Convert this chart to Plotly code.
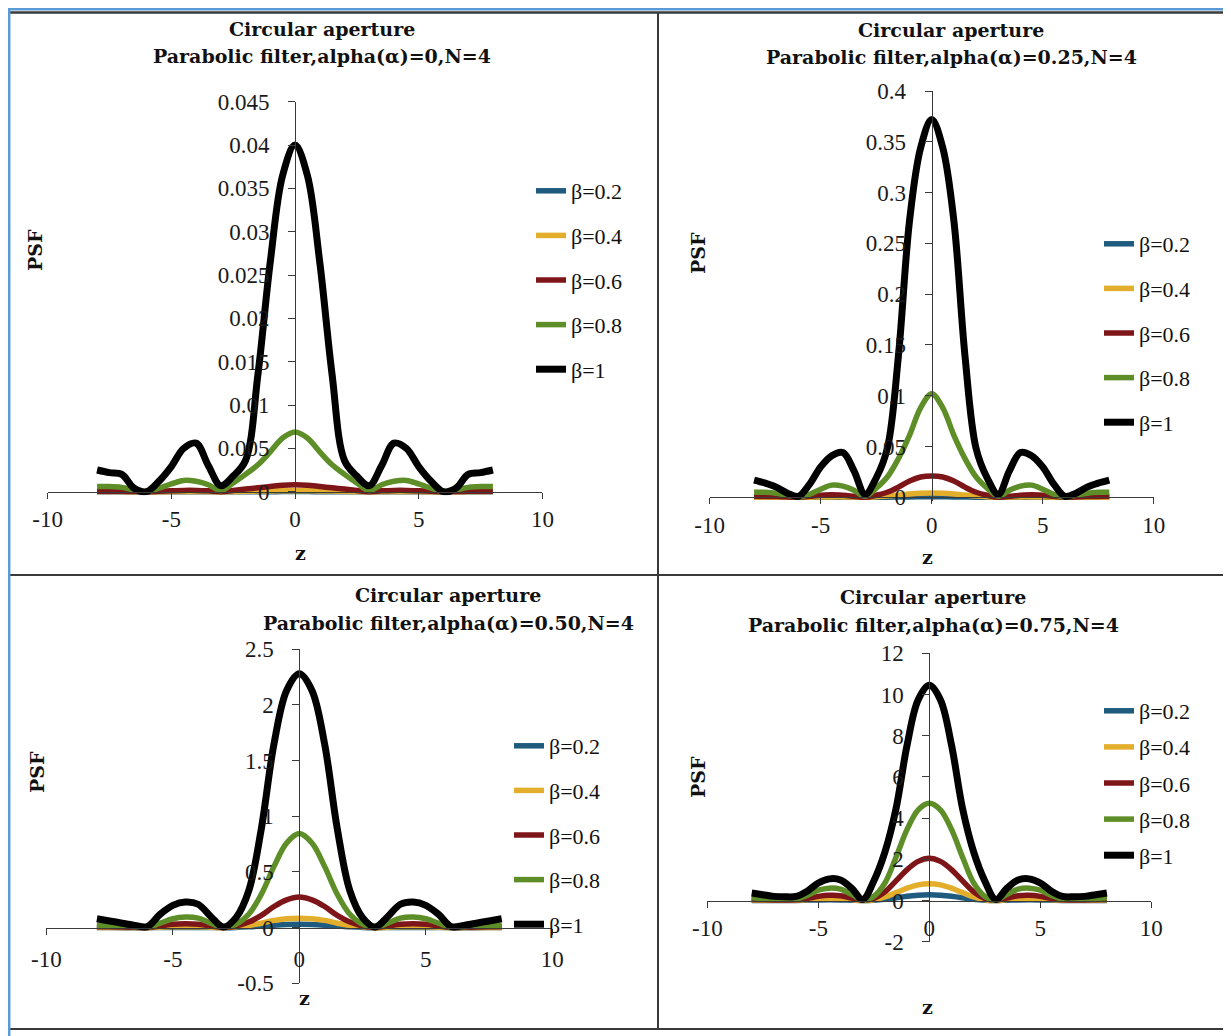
import plotly.graph_objects as go

W, H = 1231, 1036
OFF = 8  # page body margin: the figure starts 8px into the window

# ---------------- data ----------------
z = [-8.0, -7.5, -7.0, -6.5, -6.0, -5.5, -5.0, -4.5, -4.0, -3.5, -3.0, -2.5, -2.0, -1.5, -1.0, -0.5,
     0.0, 0.5, 1.0, 1.5, 2.0, 2.5, 3.0, 3.5, 4.0, 4.5, 5.0, 5.5, 6.0, 6.5, 7.0, 7.5, 8.0]

beta_labels = ["β=0.2", "β=0.4", "β=0.6", "β=0.8", "β=1"]

x_tickvals = [-10, -5, 0, 5, 10]
x_ticktext = ["-10", "-5", "0", "5", "10"]

# alpha = 0
a0_b02 = [0, 0, 0, 0, 0, 0, 0, 0, 0, 0, 0, 0.000001, 0.000003, 0.000005, 0.000007, 0.000009, 0.00001,
          0.000009, 0.000007, 0.000005, 0.000003, 0.000001, 0, 0, 0, 0, 0, 0, 0, 0, 0, 0, 0]
a0_b04 = [0.00001, 0.00001, 0.00001, 0.0, 0.0, 0.0, 0.00001, 0.00002, 0.00002, 0.00001, 0.0, 0.00002, 0.00004,
          0.00007, 0.00009, 0.00011, 0.00012, 0.00011, 0.00009, 0.00007, 0.00004, 0.00002, 0.0, 0.00001,
          0.00002, 0.00002, 0.00001, 0.0, 0.0, 0.0, 0.00001, 0.00001, 0.00001]
a0_b06 = [0.00006, 0.00006, 0.00005, 0.00002, 0.0, 0.00005, 0.0001, 0.00015, 0.00015, 0.0001, 0.0, 0.00015,
          0.0003, 0.00045, 0.0006, 0.00075, 0.0008, 0.00075, 0.0006, 0.00045, 0.0003, 0.00015, 0.0, 0.0001,
          0.00015, 0.00015, 0.0001, 0.00005, 0.0, 0.00002, 0.00005, 0.00006, 0.00006]
a0_b08 = [0.0006, 0.0006, 0.0005, 0.0002, 0.0000, 0.0004, 0.0009, 0.0013, 0.0012, 0.0008, 0.0001, 0.0010,
          0.0020, 0.0031, 0.0046, 0.0062, 0.0069, 0.0062, 0.0046, 0.0031, 0.0020, 0.0010, 0.0001, 0.0008,
          0.0012, 0.0013, 0.0009, 0.0004, 0.0000, 0.0002, 0.0005, 0.0006, 0.0006]
a0_b1 = [0.0025, 0.0022, 0.0020, 0.0004, 0.0000, 0.0012, 0.0029, 0.0050, 0.0056, 0.0030, 0.0007, 0.0018,
         0.0036, 0.0135, 0.0265, 0.0365, 0.0400, 0.0365, 0.0265, 0.0135, 0.0036, 0.0018, 0.0007, 0.0030,
         0.0056, 0.0050, 0.0029, 0.0012, 0.0000, 0.0004, 0.0020, 0.0022, 0.0025]

# alpha = 0.25
a025_b02 = [0.00001, 0.00001, 0.00001, 0, 0, 0.00001, 0.00003, 0.00004, 0.00004, 0.00002, 0, 0.00006, 0.00014,
            0.00026, 0.0004, 0.00047, 0.0005, 0.00047, 0.0004, 0.00026, 0.00014, 0.00006, 0, 0.00002, 0.00004,
            0.00004, 0.00003, 0.00001, 0, 0, 0.00001, 0.00001, 0.00001]
a025_b04 = [0.0001, 0.0001, 0.0001, 0.0, 0.0, 0.0001, 0.0003, 0.0004, 0.0004, 0.0002, 0.0, 0.0005, 0.0012,
            0.0022, 0.0033, 0.0040, 0.0042, 0.0040, 0.0033, 0.0022, 0.0012, 0.0005, 0.0, 0.0002, 0.0004,
            0.0004, 0.0003, 0.0001, 0.0, 0.0, 0.0001, 0.0001, 0.0001]
a025_b06 = [0.001, 0.0009, 0.0007, 0.0003, 0.000, 0.001, 0.002, 0.0025, 0.002, 0.001, 0.000, 0.002, 0.005,
            0.010, 0.016, 0.020, 0.021, 0.020, 0.016, 0.010, 0.005, 0.002, 0.000, 0.001, 0.002, 0.0025,
            0.002, 0.001, 0.000, 0.0003, 0.0007, 0.0009, 0.001]
a025_b08 = [0.005, 0.005, 0.004, 0.002, 0.000, 0.003, 0.008, 0.012, 0.011, 0.007, 0.001, 0.009, 0.020,
            0.038, 0.061, 0.088, 0.102, 0.088, 0.061, 0.038, 0.020, 0.009, 0.001, 0.007, 0.011, 0.012,
            0.008, 0.003, 0.000, 0.002, 0.004, 0.005, 0.005]
a025_b1 = [0.017, 0.014, 0.010, 0.004, 0.001, 0.013, 0.030, 0.041, 0.044, 0.026, 0.003, 0.019, 0.048,
           0.139, 0.272, 0.344, 0.372, 0.344, 0.272, 0.139, 0.048, 0.019, 0.003, 0.026, 0.044, 0.041,
           0.030, 0.013, 0.001, 0.004, 0.010, 0.014, 0.017]

# alpha = 0.50
a05_b02 = [0.001, 0.001, 0.0, 0.0, 0.0, 0.001, 0.002, 0.002, 0.002, 0.001, 0.0, 0.002, 0.007, 0.014, 0.022,
           0.028, 0.03, 0.028, 0.022, 0.014, 0.007, 0.002, 0.0, 0.001, 0.002, 0.002, 0.002, 0.001, 0.0, 0.0,
           0.0, 0.001, 0.001]
a05_b04 = [0.002, 0.002, 0.001, 0.001, 0.0, 0.004, 0.008, 0.009, 0.008, 0.004, 0.0, 0.007, 0.02, 0.04, 0.065,
           0.08, 0.085, 0.08, 0.065, 0.04, 0.02, 0.007, 0.0, 0.004, 0.008, 0.009, 0.008, 0.004, 0.0, 0.001,
           0.001, 0.002, 0.002]
a05_b06 = [0.008, 0.007, 0.005, 0.003, 0.001, 0.015, 0.03, 0.035, 0.03, 0.015, 0.001, 0.015, 0.05, 0.11, 0.19,
           0.25, 0.275, 0.25, 0.19, 0.11, 0.05, 0.015, 0.001, 0.015, 0.03, 0.035, 0.03, 0.015, 0.001, 0.003,
           0.005, 0.007, 0.008]
a05_b08 = [0.022, 0.02, 0.015, 0.008, 0.003, 0.04, 0.08, 0.095, 0.085, 0.04, 0.003, 0.03, 0.12, 0.30, 0.55,
           0.76, 0.845, 0.76, 0.55, 0.30, 0.12, 0.03, 0.003, 0.04, 0.085, 0.095, 0.08, 0.04, 0.003, 0.008,
           0.015, 0.02, 0.022]
a05_b1 = [0.08, 0.06, 0.04, 0.02, 0.01, 0.12, 0.20, 0.23, 0.21, 0.10, 0.005, 0.09, 0.33, 0.89, 1.65, 2.13,
          2.28, 2.13, 1.65, 0.89, 0.33, 0.09, 0.005, 0.10, 0.21, 0.23, 0.20, 0.12, 0.01, 0.02, 0.04, 0.06, 0.08]

# alpha = 0.75
a075_b02 = [0.006, 0.005, 0.004, 0.003, 0.003, 0.015, 0.03, 0.035, 0.03, 0.015, 0.0, 0.015, 0.06, 0.13, 0.21,
            0.26, 0.28, 0.26, 0.21, 0.13, 0.06, 0.015, 0.0, 0.015, 0.03, 0.035, 0.03, 0.015, 0.003, 0.003,
            0.004, 0.005, 0.006]
a075_b04 = [0.02, 0.015, 0.01, 0.01, 0.01, 0.04, 0.08, 0.1, 0.09, 0.05, 0.0, 0.04, 0.17, 0.38, 0.6, 0.76, 0.81,
            0.76, 0.6, 0.38, 0.17, 0.04, 0.0, 0.05, 0.09, 0.1, 0.08, 0.04, 0.01, 0.01, 0.01, 0.015, 0.02]
a075_b06 = [0.05, 0.04, 0.03, 0.025, 0.03, 0.1, 0.2, 0.25, 0.23, 0.12, 0.01, 0.1, 0.42, 0.95, 1.5, 1.9, 2.05,
            1.9, 1.5, 0.95, 0.42, 0.1, 0.01, 0.12, 0.23, 0.25, 0.2, 0.1, 0.03, 0.025, 0.03, 0.04, 0.05]
a075_b08 = [0.13, 0.1, 0.07, 0.06, 0.08, 0.25, 0.5, 0.6, 0.55, 0.3, 0.02, 0.2, 0.85, 2.1, 3.45, 4.4, 4.72,
            4.4, 3.45, 2.1, 0.85, 0.2, 0.02, 0.3, 0.55, 0.6, 0.5, 0.25, 0.08, 0.06, 0.07, 0.1, 0.13]
a075_b1 = [0.36, 0.28, 0.2, 0.18, 0.2, 0.45, 0.85, 1.05, 1.0, 0.6, 0.05, 0.95, 2.35, 4.45, 7.55, 9.75, 10.45,
           9.75, 7.55, 4.45, 2.35, 0.95, 0.05, 0.6, 1.0, 1.05, 0.85, 0.45, 0.2, 0.18, 0.2, 0.28, 0.36]

p1_yticks = [0, 0.005, 0.01, 0.015, 0.02, 0.025, 0.03, 0.035, 0.04, 0.045]
p1_yticktext = ["0", "0.005", "0.01", "0.015", "0.02", "0.025", "0.03", "0.035", "0.04", "0.045"]
p2_yticks = [0, 0.05, 0.1, 0.15, 0.2, 0.25, 0.3, 0.35, 0.4]
p2_yticktext = ["0", "0.05", "0.1", "0.15", "0.2", "0.25", "0.3", "0.35", "0.4"]
p3_yticks = [-0.5, 0, 0.5, 1, 1.5, 2, 2.5]
p3_yticktext = ["-0.5", "0", "0.5", "1", "1.5", "2", "2.5"]
p4_yticks = [-2, 0, 2, 4, 6, 8, 10, 12]
p4_yticktext = ["-2", "0", "2", "4", "6", "8", "10", "12"]

title_line1 = "Circular aperture"
title_line2 = ["Parabolic filter,alpha(α)=0,N=4", "Parabolic filter,alpha(α)=0.25,N=4",
               "Parabolic filter,alpha(α)=0.50,N=4", "Parabolic filter,alpha(α)=0.75,N=4"]

# ---------------- style / layout ----------------
colors = ["#1F5B7E", "#E3AE2B", "#7E1518", "#5E8E27", "#000000"]
widths = [5.5, 5.5, 5.5, 5.5, 7]
SERIF = "Liberation Serif"
BOLD = "DejaVu Serif"


def fx(px):
    return (px - OFF) / W


def fy(py):
    return 1 - (py - OFF) / H


panels = [
    dict(series=[a0_b02, a0_b04, a0_b06, a0_b08, a0_b1], yt=p1_yticks, ytt=p1_yticktext,
         xm=47.6, xp=542.4, ylo=0.0, ylo_px=491.7, yhi=0.045, yhi_px=101.7, pad=3.5, xstand=1,
         tcx=322, t1=29, t2=56, psf=(35, 250), zl=(300, 553), lx=573, ly=192, gap=13),
    dict(series=[a025_b02, a025_b04, a025_b06, a025_b08, a025_b1], yt=p2_yticks, ytt=p2_yticktext,
         xm=709.7, xp=1153.7, ylo=0.0, ylo_px=497.3, yhi=0.4, yhi_px=91.0, pad=3.5, xstand=1,
         tcx=951, t1=30, t2=57, psf=(698, 253), zl=(927, 557), lx=1141, ly=245, gap=13),
    dict(series=[a05_b02, a05_b04, a05_b06, a05_b08, a05_b1], yt=p3_yticks, ytt=p3_yticktext,
         xm=46.3, xp=552.3, ylo=-0.5, ylo_px=983.3, yhi=2.5, yhi_px=649.3, pad=0, xstand=5,
         tcx=448, t1=595, t2=623, psf=(37, 772), zl=(304, 998), lx=551, ly=747, gap=13),
    dict(series=[a075_b02, a075_b04, a075_b06, a075_b08, a075_b1], yt=p4_yticks, ytt=p4_yticktext,
         xm=707.3, xp=1151.3, ylo=-2.0, ylo_px=941.7, yhi=12.0, yhi_px=653.3, pad=0, xstand=1,
         tcx=933, t1=597, t2=625, psf=(698, 777), zl=(927, 1007), lx=1141, ly=712, gap=4.5),
]

fig = go.Figure()
layout = dict(width=W, height=H, autosize=False,
              margin=dict(l=0, r=0, t=0, b=0, pad=0, autoexpand=False),
              paper_bgcolor="white", plot_bgcolor="rgba(0,0,0,0)", showlegend=True)
annotations = []
shapes = []

for i, p in enumerate(panels):
    n = "" if i == 0 else str(i + 1)
    leg = "legend" if i == 0 else f"legend{i + 1}"
    ppu_x = (p["xp"] - p["xm"]) / 20.0
    x0_px = p["xm"] + 10 * ppu_x
    ppu_y = (p["ylo_px"] - p["yhi_px"]) / (p["yhi"] - p["ylo"])
    ext = p["pad"] / ppu_y
    y0_px = p["ylo_px"] - (0 - p["ylo"]) * ppu_y

    for j, ys in enumerate(p["series"]):
        fig.add_trace(go.Scatter(
            x=z, y=ys, mode="lines", name=beta_labels[j],
            line=dict(color=colors[j], width=widths[j], shape="spline", smoothing=1.0),
            xaxis="x" + n, yaxis="y" + n, legend=leg, legendgroup=f"g{i}{j}",
            hoverinfo="skip"))

    layout["xaxis" + n] = dict(
        domain=[fx(p["xm"]), fx(p["xp"])], range=[-10, 10], anchor="free", position=fy(y0_px),
        showline=True, linecolor="#3a3a3a", linewidth=1, ticks="outside", ticklen=6, tickcolor="#3a3a3a",
        tickvals=x_tickvals, ticktext=x_ticktext, showgrid=False, zeroline=False, automargin=False,
        tickfont=dict(family=SERIF, size=23, color="#1a1a1a"), ticklabelstandoff=p["xstand"],
        fixedrange=True)
    layout["yaxis" + n] = dict(
        domain=[fy(p["ylo_px"] + p["pad"]), fy(p["yhi_px"])], range=[p["ylo"] - ext, p["yhi"]],
        anchor="free", position=fx(x0_px), side="left", automargin=False,
        showline=True, linecolor="#3a3a3a", linewidth=1, ticks="outside", ticklen=7, tickcolor="#3a3a3a",
        tickvals=p["yt"], ticktext=p["ytt"], showgrid=False, zeroline=False,
        tickfont=dict(family=SERIF, size=23, color="#1a1a1a"), ticklabelstandoff=14, fixedrange=True)
    layout[leg] = dict(
        x=fx(p["lx"] - 42), y=fy(p["ly"] - 22), xanchor="left", yanchor="top",
        bgcolor="rgba(0,0,0,0)", font=dict(family=SERIF, size=22, color="#111"),
        tracegroupgap=p["gap"], traceorder="grouped", itemwidth=30)

    annotations += [
        dict(text=f"<b>{title_line1}</b>", x=fx(p["tcx"]), y=fy(p["t1"]), xref="paper", yref="paper",
             showarrow=False, xanchor="center", yanchor="middle",
             font=dict(family=BOLD, size=19, color="#111")),
        dict(text=f"<b>{title_line2[i]}</b>", x=fx(p["tcx"]), y=fy(p["t2"]), xref="paper", yref="paper",
             showarrow=False, xanchor="center", yanchor="middle",
             font=dict(family=BOLD, size=19, color="#111")),
        dict(text="<b>PSF</b>", x=fx(p["psf"][0]), y=fy(p["psf"][1]), xref="paper", yref="paper",
             showarrow=False, textangle=-90, xanchor="center", yanchor="middle",
             font=dict(family=BOLD, size=19, color="#111")),
        dict(text="<b>z</b>", x=fx(p["zl"][0]), y=fy(p["zl"][1]), xref="paper", yref="paper",
             showarrow=False, xanchor="center", yanchor="middle",
             font=dict(family=BOLD, size=19, color="#111")),
    ]

# frame lines
def seg(x0, y0, x1, y1, color, width):
    return dict(type="line", xref="paper", yref="paper", x0=fx(x0), y0=fy(y0), x1=fx(x1), y1=fy(y1),
                line=dict(color=color, width=width), layer="above")

shapes += [
    seg(9, 12.5, 1224, 12.5, "#3a3a3a", 2.5),
    seg(9, 575, 1224, 575, "#3a3a3a", 2),
    seg(9, 1029, 1224, 1029, "#3a3a3a", 2),
    seg(658, 12.5, 658, 1029, "#3a3a3a", 2),
    seg(1224, 12.5, 1224, 1029, "#3a3a3a", 2),
    dict(type="rect", xref="paper", yref="paper", x0=fx(9.2), y0=fy(9.2), x1=fx(1227), y1=fy(1060),
         line=dict(color="#5B9BD5", width=2.5), layer="above"),
]

layout["annotations"] = annotations
layout["shapes"] = shapes
fig.update_layout(**layout)
fig.write_html("out.html")
